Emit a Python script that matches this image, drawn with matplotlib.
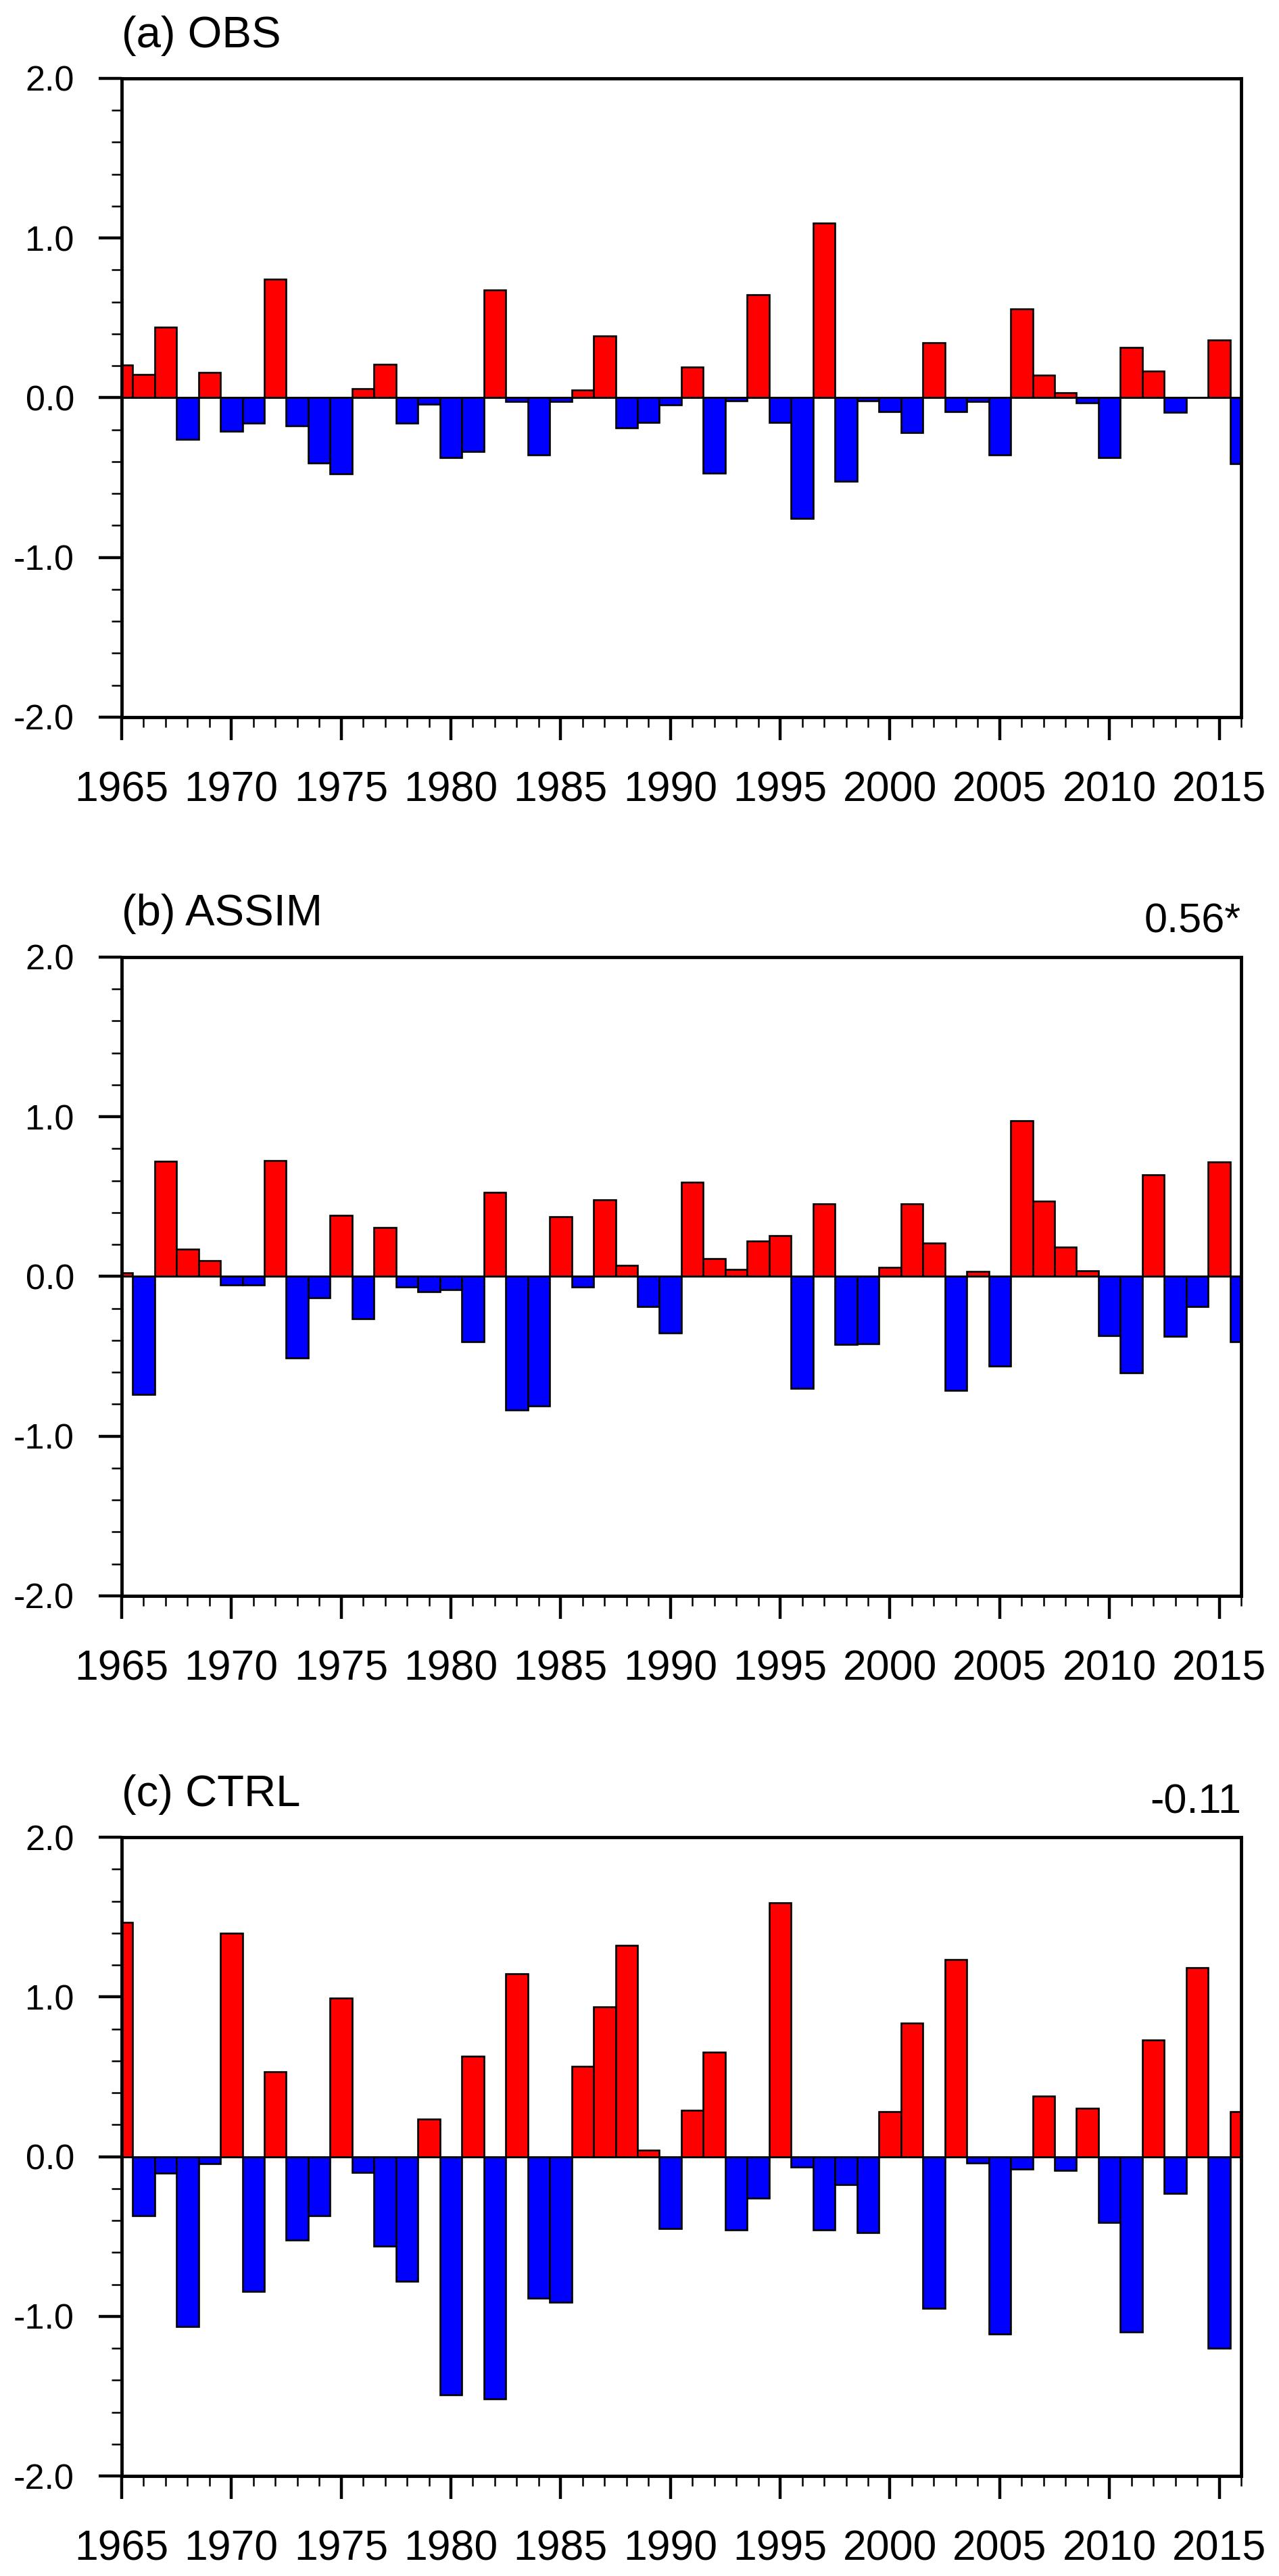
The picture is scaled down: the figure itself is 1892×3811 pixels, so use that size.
import matplotlib.pyplot as plt
from matplotlib.ticker import MultipleLocator

plt.rcParams['font.family'] = ['Liberation Sans', 'DejaVu Sans']

# years and series (anomalies)
years = list(range(1965, 2017))

obs = [0.205, 0.145, 0.44, -0.26, 0.16, -0.21, -0.157, 0.742, -0.178, -0.41,
       -0.478, 0.056, 0.21, -0.16, -0.04, -0.374, -0.338, 0.674, -0.024, -0.356,
       -0.024, 0.047, 0.386, -0.19, -0.154, -0.045, 0.193, -0.472, -0.02, 0.644,
       -0.154, -0.754, 1.092, -0.525, -0.02, -0.089, -0.22, 0.344, -0.086, -0.024,
       -0.356, 0.555, 0.14, 0.033, -0.033, -0.377, 0.315, 0.166, -0.092, 0.0,
       0.362, -0.415]

assim = [0.023, -0.741, 0.722, 0.172, 0.10, -0.052, -0.052, 0.725, -0.511, -0.133,
         0.382, -0.265, 0.307, -0.065, -0.094, -0.084, -0.411, 0.527, -0.835, -0.812,
         0.372, -0.068, 0.479, 0.068, -0.191, -0.353, 0.589, 0.113, 0.042, 0.22,
         0.256, -0.699, 0.456, -0.427, -0.421, 0.055, 0.456, 0.21, -0.715, 0.029,
         -0.563, 0.974, 0.472, 0.184, 0.036, -0.369, -0.602, 0.638, -0.375, -0.188,
         0.718, -0.411]

ctrl = [1.465, -0.372, -0.103, -1.065, -0.046, 1.398, -0.846, 0.531, -0.524, -0.368,
        0.991, -0.099, -0.559, -0.782, 0.234, -1.49, 0.627, -1.515, 1.143, -0.885,
        -0.91, 0.566, 0.938, 1.324, 0.042, -0.45, 0.29, 0.655, -0.457, -0.262,
        1.589, -0.064, -0.46, -0.177, -0.474, 0.283, 0.835, -0.949, 1.235, -0.039,
        -1.11, -0.078, 0.379, -0.085, 0.301, -0.414, -1.1, 0.729, -0.23, 1.182,
        -1.2, 0.283]

titles = ["(a) OBS", "(b) ASSIM", "(c) CTRL"]
corrs = ["", "0.56*", "-0.11"]
xticks = list(range(1965, 2016, 5))
yticks = [-2.0, -1.0, 0.0, 1.0, 2.0]

# figura
fig = plt.figure(figsize=(18.92, 38.11), dpi=100)
bottoms = [0.7216, 0.3805, 0.0388]

for series, title, corr, b in zip([obs, assim, ctrl], titles, corrs, bottoms):
    ax = fig.add_axes([0.0951, b, 0.8753, 0.2480])
    colors = ["#ff0000" if v >= 0 else "#0000ff" for v in series]
    ax.bar(years, series, width=1.0, color=colors, edgecolor="black", linewidth=1.9)
    ax.axhline(0, color="black", linewidth=1.9)

    ax.set_xlim(1965, 2016)
    ax.set_ylim(-2, 2)
    ax.set_xticks(xticks)
    ax.set_xticklabels([str(y) for y in xticks])
    ax.set_yticks(yticks)
    ax.set_yticklabels(["%.1f" % y for y in yticks])
    ax.xaxis.set_minor_locator(MultipleLocator(1))
    ax.yaxis.set_minor_locator(MultipleLocator(0.2))

    ax.tick_params(which="both", direction="out", top=False, right=False)
    ax.tick_params(which="major", length=24.5, width=3.2)
    ax.tick_params(which="minor", length=10.8, width=1.8)
    ax.tick_params(axis="y", labelsize=37.5, pad=26)
    ax.tick_params(axis="x", labelsize=45, pad=32)
    for s in ax.spines.values():
        s.set_linewidth(3.5)

    ax.text(0.0, 1.049, title, transform=ax.transAxes, ha="left",
            va="baseline", fontsize=47)
    if corr:
        ax.text(1.0, 1.038, corr, transform=ax.transAxes, ha="right",
                va="baseline", fontsize=44)

fig.savefig("out.png", dpi=100)
